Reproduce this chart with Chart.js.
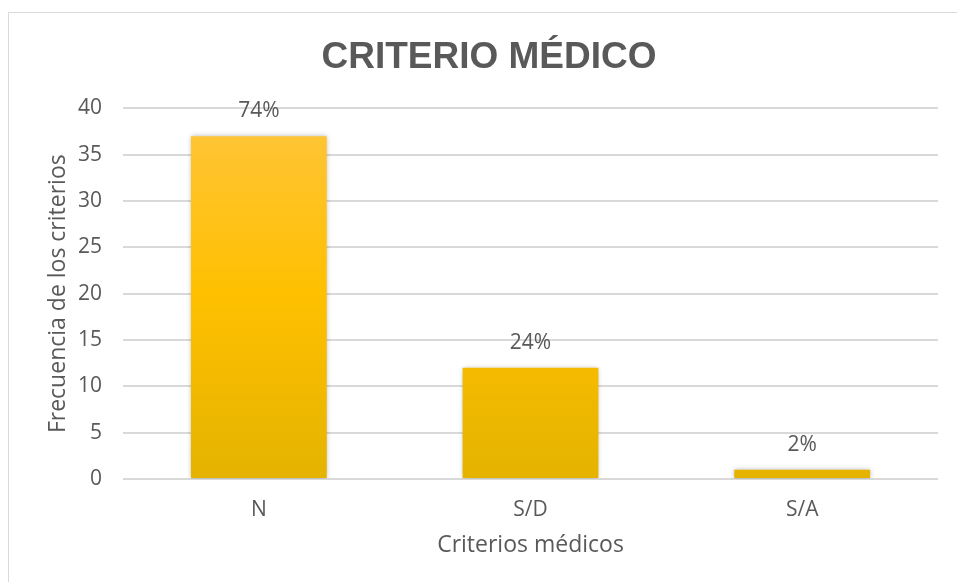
<!DOCTYPE html>
<html>
<head>
<meta charset="utf-8">
<script src="https://cdn.jsdelivr.net/npm/chart.js@4"></script>
<style>
  html, body { margin: 0; padding: 0; background: #fff; }
  #wrap { position: relative; width: 957px; height: 582px; overflow: hidden; }
  #frame { position: absolute; left: 8px; top: 12px; width: 1000px; height: 700px; border: 1px solid #d9d9d9; box-sizing: border-box; }
  #myChart { position: absolute; left: 0; top: 0; }
</style>
</head>
<body>
<div id="wrap">
  <div id="frame"></div>
  <canvas id="myChart" width="957" height="582"></canvas>
</div>
<script>
const categories = ["N", "S/D", "S/A"];
const frecuencias = [37, 12, 1];
const porcentajes = ["74%", "24%", "2%"];
const yTicks = [0, 5, 10, 15, 20, 25, 30, 35, 40];

const textFamily = "'Open Sans', 'Noto Sans', sans-serif";
const tickFont = { family: textFamily, size: 21 };
const axisTitleFont = { family: textFamily, size: 23 };

// light shadow on the bars + percentage labels above them
const barLabels = {
    id: 'barLabels',
    beforeDatasetsDraw(chart) {
        const ctx = chart.ctx;
        ctx.save();
        ctx.shadowColor = 'rgba(0,0,0,0.28)';
        ctx.shadowBlur = 5;
    },
    afterDatasetsDraw(chart) {
        const ctx = chart.ctx;
        ctx.restore();
        const meta = chart.getDatasetMeta(0);
        ctx.save();
        ctx.fillStyle = '#595959';
        ctx.font = "21px " + textFamily;
        ctx.textAlign = 'center';
        ctx.textBaseline = 'middle';
        meta.data.forEach((bar, i) => {
            ctx.fillText(porcentajes[i], bar.x, bar.y - 25);
        });
        ctx.restore();
    }
};

function barGradient(context) {
    const area = context.chart.chartArea;
    if (!area) return '#ffc000';
    const el = context.element;
    const top = el && el.y !== undefined ? el.y : area.top;
    const bottom = el && el.base !== undefined ? el.base : area.bottom;
    const g = context.chart.ctx.createLinearGradient(0, top, 0, bottom);
    g.addColorStop(0, '#ffc53d');
    g.addColorStop(0.5, '#ffc000');
    g.addColorStop(1, '#e4b300');
    return g;
}

const ctx1 = document.getElementById('myChart');

new Chart(ctx1, {
    type: 'bar',
    data: {
        labels: categories,
        datasets: [{
            data: frecuencias,
            backgroundColor: barGradient,
            borderWidth: 0,
            categoryPercentage: 1,
            barPercentage: 0.5
        }]
    },
    options: {
        responsive: false,
        animation: false,
        layout: { padding: { top: 0, left: 40, right: 19, bottom: 0 } },
        plugins: {
            legend: { display: false },
            tooltip: { enabled: false },
            title: {
                display: true,
                text: 'CRITERIO MÉDICO',
                color: '#595959',
                font: { family: "'Liberation Sans', Arial, sans-serif", size: 37, weight: 'bold' },
                padding: { top: 36, bottom: 28 }
            }
        },
        scales: {
            x: {
                grid: { display: false },
                border: { display: false },
                ticks: { color: '#595959', font: tickFont, padding: 10 },
                afterFit: axis => { axis.height = 103; },
                title: {
                    display: true,
                    text: 'Criterios médicos',
                    color: '#595959',
                    font: axisTitleFont,
                    padding: { top: 23, bottom: 23 }
                }
            },
            y: {
                min: 0,
                max: 40,
                afterBuildTicks: axis => { axis.ticks = yTicks.map(v => ({ value: v })); },
                afterFit: axis => { axis.width = 83; },
                grid: { color: '#d9d9d9', lineWidth: 2, drawTicks: false },
                border: { display: false },
                ticks: { color: '#595959', font: tickFont, padding: 21 },
                title: {
                    display: true,
                    text: 'Frecuencia de los criterios',
                    color: '#595959',
                    font: axisTitleFont,
                    padding: { top: 5, bottom: 5 }
                }
            }
        }
    },
    plugins: [barLabels]
});
</script>
</body>
</html>
